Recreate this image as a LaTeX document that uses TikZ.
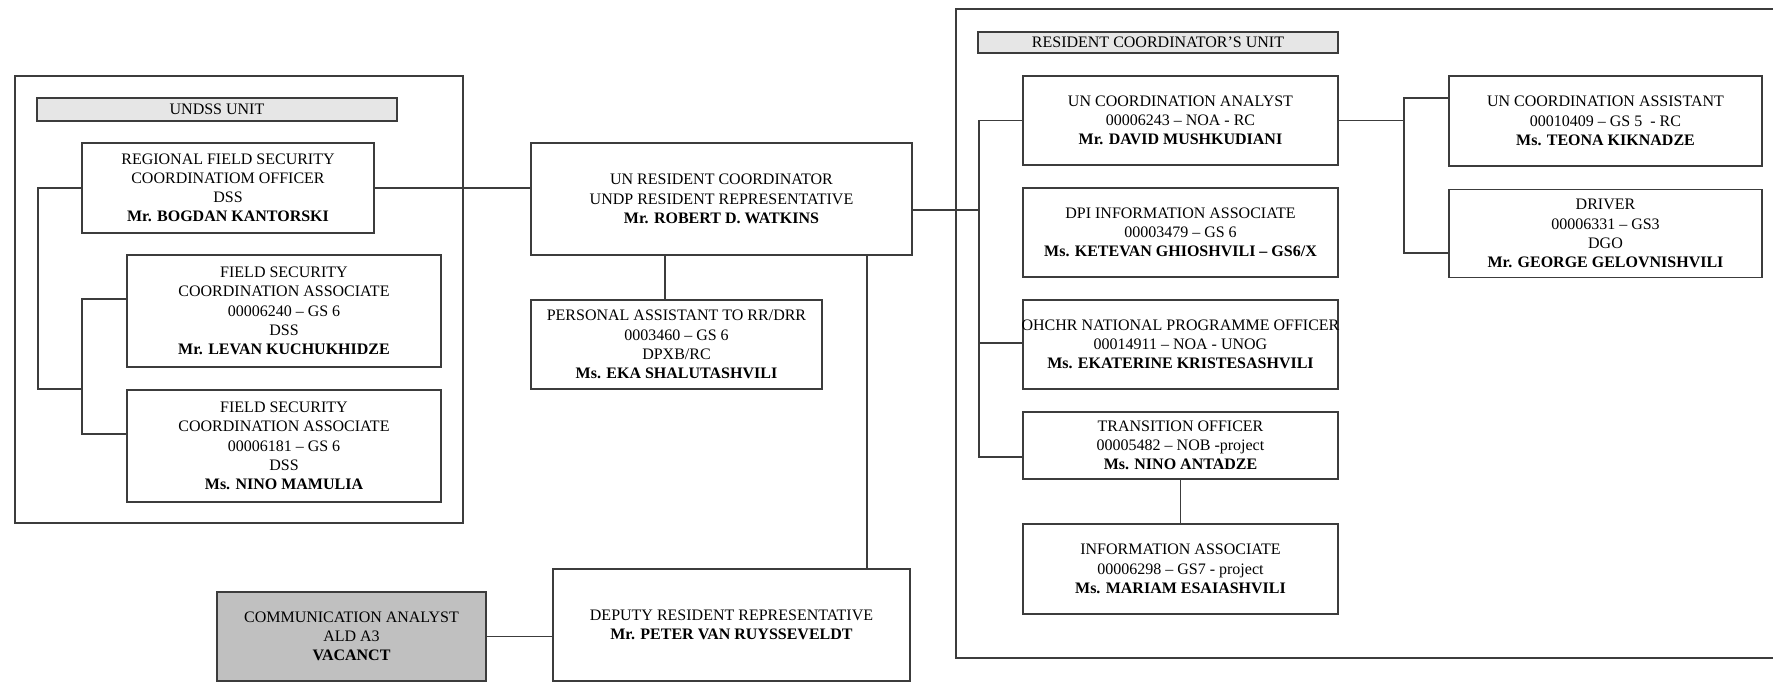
\documentclass[tikz,border=0pt]{standalone}
\usepackage{fontspec}
\setmainfont{Liberation Serif}
\definecolor{linec}{RGB}{60,60,60}
\definecolor{barfill}{RGB}{230,230,230}
\definecolor{vacfill}{RGB}{192,192,192}
\tikzset{
  box/.style={draw=linec, line width=1.2pt, fill=white, inner sep=0pt, align=center,
    font=\fontsize{16}{19.2}\selectfont},
  bar/.style={box, fill=barfill},
  vac/.style={box, fill=vacfill},
  frame/.style={draw=linec, line width=1.2pt},
  conn/.style={draw=linec, line width=1.2pt},
}
\begin{document}
\begin{tikzpicture}[x=1pt,y=-1pt]
\useasboundingbox (0,0) rectangle (1773,682);

% frames
\node[frame, minimum width=448pt, minimum height=447pt] (undss) at (239,299.5) {};
\draw[frame] (1773,9) -- (956,9) -- (956,658) -- (1773,658);

% UNDSS unit
\node[bar, minimum width=360pt, minimum height=23pt] (undsslbl) at (217,109.5) {UNDSS UNIT};
\node[box, minimum width=292pt, minimum height=90pt] (rfsco) at (228,188)
  {REGIONAL FIELD SECURITY\\COORDINATIOM OFFICER\\DSS\\\textbf{Mr. BOGDAN KANTORSKI}};
\node[box, minimum width=314pt, minimum height=112pt] (fsa1) at (284,311)
  {FIELD SECURITY\\COORDINATION ASSOCIATE\\00006240 – GS 6\\DSS\\\textbf{Mr. LEVAN KUCHUKHIDZE}};
\node[box, minimum width=314pt, minimum height=112pt] (fsa2) at (284,446)
  {FIELD SECURITY\\COORDINATION ASSOCIATE\\00006181 – GS 6\\DSS\\\textbf{Ms. NINO MAMULIA}};

% centre
\node[box, minimum width=381pt, minimum height=112pt] (rc) at (721.5,199)
  {UN RESIDENT COORDINATOR\\UNDP RESIDENT REPRESENTATIVE\\\textbf{Mr. ROBERT D. WATKINS}};
\node[box, minimum width=291pt, minimum height=89pt] (pa) at (676.5,344.5)
  {PERSONAL ASSISTANT TO RR/DRR\\0003460 – GS 6\\DPXB/RC\\\textbf{Ms. EKA SHALUTASHVILI}};
\node[vac, minimum width=269pt, minimum height=89pt] (comm) at (351.5,636.5)
  {COMMUNICATION ANALYST\\ALD A3\\\textbf{VACANCT}};
\node[box, minimum width=357pt, minimum height=112pt] (deputy) at (731.5,625)
  {DEPUTY RESIDENT REPRESENTATIVE\\\textbf{Mr. PETER VAN RUYSSEVELDT}};

% RC unit
\node[bar, minimum width=360pt, minimum height=21pt] (rclbl) at (1158,42.5) {RESIDENT COORDINATOR’S UNIT};
\node[box, minimum width=315pt, minimum height=89pt] (analyst) at (1180.5,120.5)
  {UN COORDINATION ANALYST\\00006243 – NOA - RC\\\textbf{Mr. DAVID MUSHKUDIANI}};
\node[box, minimum width=315pt, minimum height=89pt] (dpi) at (1180.5,232.5)
  {DPI INFORMATION ASSOCIATE\\00003479 – GS 6\\\textbf{Ms. KETEVAN GHIOSHVILI – GS6/X}};
\node[box, minimum width=315pt, minimum height=89pt] (ohchr) at (1180.5,344.5)
  {\makebox[0pt]{OHCHR NATIONAL PROGRAMME OFFICER}\\00014911 – NOA - UNOG\\\textbf{Ms. EKATERINE KRISTESASHVILI}};
\node[box, minimum width=315pt, minimum height=67pt] (trans) at (1180.5,445.5)
  {TRANSITION OFFICER\\00005482 – NOB -project\\\textbf{Ms. NINO ANTADZE}};
\node[box, minimum width=315pt, minimum height=90pt] (info) at (1180.5,569)
  {INFORMATION ASSOCIATE\\00006298 – GS7 - project\\\textbf{Ms. MARIAM ESAIASHVILI}};
\node[box, minimum width=313pt, minimum height=90pt] (unca) at (1605.5,121)
  {UN COORDINATION ASSISTANT\\00010409 – GS 5 \ - RC\\\textbf{Ms. TEONA KIKNADZE}};
\node[box, minimum width=313pt, minimum height=88pt] (driver) at (1605.5,233.5)
  {DRIVER\\00006331 – GS3\\DGO\\\textbf{Mr. GEORGE GELOVNISHVILI}};

% helper coordinates
\coordinate (bus1bot) at (38,389);
\coordinate (j1) at (82,389);
\coordinate (bus2top) at (82,299);
\coordinate (bus2bot) at (82,434);
\coordinate (pax) at (665,0);
\coordinate (depx) at (867,0);
\coordinate (rcy) at (0,210);
\coordinate (busR) at (979,0);
\coordinate (oy) at (0,343);
\coordinate (ty) at (0,457);
\coordinate (bus3) at (1404,0);
\coordinate (uy) at (0,98);
\coordinate (dy) at (0,253);

% connectors
\draw[conn] (rfsco.west) -| (bus1bot) -- (j1);
\draw[conn] (fsa1.west |- bus2top) -- (bus2top) -- (bus2bot) -- (fsa2.west |- bus2bot);
\draw[conn] (rfsco.east) -- (rfsco.east -| rc.west);
\draw[conn] (rc.south -| pax) -- (pa.north -| pax);
\draw[conn] (rc.south -| depx) -- (deputy.north -| depx);
\draw[conn] (comm.east) -- (comm.east -| deputy.west);
\draw[conn] (rc.east |- rcy) -- (busR |- rcy);
\draw[conn] (analyst.west) -| (busR |- ty) -- (trans.west |- ty);
\draw[conn] (busR |- oy) -- (ohchr.west |- oy);
\draw[conn] (analyst.east) -- (analyst.east -| bus3);
\draw[conn] (unca.west |- uy) -| (bus3 |- dy) -- (driver.west |- dy);
\draw[conn] (trans.south) -- (info.north);
\end{tikzpicture}
\end{document}
